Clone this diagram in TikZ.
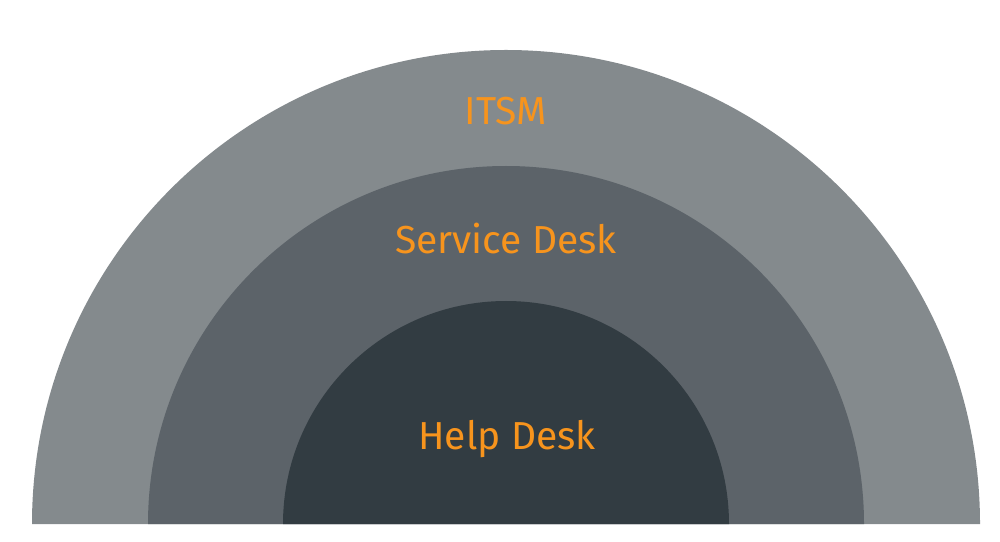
\documentclass[tikz,border=0pt]{standalone}
\usepackage{fontspec}
\setmainfont{Fira Sans}
\usepackage{xcolor}
\usepackage{tikz}

\definecolor{itsmgray}{HTML}{848A8D}
\definecolor{servicegray}{HTML}{5C6369}
\definecolor{helpgray}{HTML}{323C42}
\definecolor{labelorange}{HTML}{F7941D}

\begin{document}
\begin{tikzpicture}[
    x=1pt, y=1pt,
    layer/.style={draw=none},
    label/.style={
        text=labelorange,
        font=\fontsize{39}{39}\selectfont,
        anchor=base,
        inner sep=0pt
    }
]

\useasboundingbox (0, 0) rectangle (1000, 541);

% half discs, outermost first
\fill[layer, itsmgray] (32, 17) arc[start angle=180, end angle=0, radius=474] -- cycle;
\fill[layer, servicegray] (148, 17) arc[start angle=180, end angle=0, radius=358] -- cycle;
\fill[layer, helpgray] (283, 17) arc[start angle=180, end angle=0, radius=223] -- cycle;

\node[label] (itsm) at (506, 416) {ITSM};
\node[label] (service) at (506, 287) {Service Desk};
\node[label] (help) at (507, 92) {Help Desk};

\end{tikzpicture}
\end{document}
